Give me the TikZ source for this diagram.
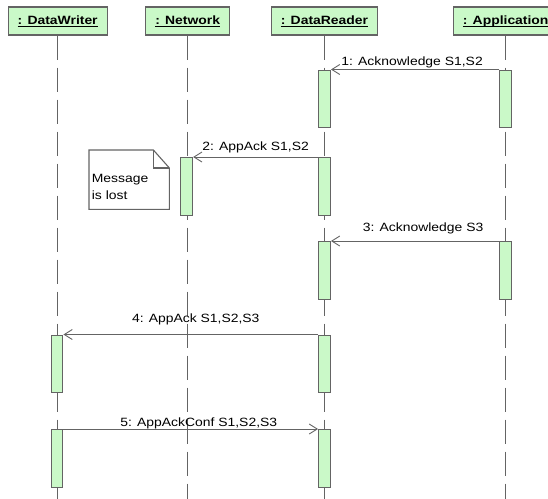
\documentclass[tikz,border=0pt]{standalone}
\usepackage{amsmath}
\usepackage{fontspec}
\usepackage[x11names, rgb]{xcolor}
\usepackage{tikz}
\usetikzlibrary{arrows.meta,positioning,calc}
\newfontfamily\umlfont[FakeStretch=1.16]{Liberation Sans}
\definecolor{umlgreen}{RGB}{202,249,200}
\definecolor{umlgray}{RGB}{100,100,100}

\begin{document}
\begin{tikzpicture}[x=1pt,y=-1pt]
\tikzset{
	head node/.style = {rectangle, draw = umlgray, line width = 1.2, fill = umlgreen, minimum height = 28, inner xsep = 9.5, font = \umlfont\fontsize{12}{14}\selectfont\bfseries},
	act node/.style = {rectangle, draw = umlgray, line width = 1.2, fill = umlgreen, minimum width = 11.7, minimum height = 57.5, inner sep = 0, anchor = north},
	note node/.style = {rectangle, minimum width = 80, minimum height = 59, inner sep = 0},
	note line/.style = {draw = umlgray, line width = 1.1},
	life line/.style = {draw = umlgray, line width = 1.1, dash pattern = on 24pt off 8pt},
	msg line/.style = {draw = umlgray, line width = 0.9, -{Straight Barb[length = 8pt, width = 10pt]}},
	msg label/.style = {font = \umlfont\fontsize{12}{17}\selectfont, inner sep = 0, text depth = 0},
}
\useasboundingbox (0,0) rectangle (548,498);

\node(dw)[head node] at (57.7,21) {\underline{: DataWriter}};
\node(nw)[head node] at (187.7,21) {\underline{: Network}};
\node(dr)[head node] at (324.5,21) {\underline{: DataReader}};
\node(app)[head node] at (505.7,21) {\underline{\smash[b]{: Application}}};
\coordinate(bottom) at (0,502);

\draw [life line] (dw.south) -- (dw.south |- bottom);
\draw [life line] (nw.south) -- (nw.south |- bottom);
\draw [life line] (dr.south) -- (dr.south |- bottom);
\draw [life line] (app.south) -- (app.south |- bottom);

\node(dr1)[act node] at (324.5,69.5) {};
\node(app1)[act node] at (505.7,69.5) {};
\node(nw2)[act node] at (186.7,157) {};
\node(dr2)[act node] at (324.5,157) {};
\node(dr3)[act node] at (324.5,241) {};
\node(app3)[act node] at (505.7,241) {};
\node(dw4)[act node] at (57,334.5) {};
\node(dr4)[act node] at (324.5,334.5) {};
\node(dw5)[act node] at (57,429) {};
\node(dr5)[act node] at (324.5,429) {};

\draw [msg line] (app1.north west) -- (dr1.north east) node[msg label, midway, above = 4pt, xshift = -3]{1: Acknowledge S1,S2};
\draw [msg line] (dr2.north west) -- (nw2.north east) node[msg label, midway, above = 6pt]{2: AppAck S1,S2};
\draw [msg line] (app3.north west) -- (dr3.north east) node[msg label, midway, above = 9pt, xshift = 8]{3: Acknowledge S3};
\draw [msg line] (dr4.north west) -- (dw4.north east) node[msg label, midway, above = 12pt, xshift = 5]{4: AppAck S1,S2,S3};
\draw [msg line] (dw5.north east) -- (dr5.north west) node[msg label, midway, above = 2pt, xshift = 8]{5: AppAckConf S1,S2,S3};

\node(note)[note node, anchor = north west] at (89,150) {};
\draw [note line] (note.south west) -- (note.north west) -- ([xshift = -16]note.north east) -- ([yshift = -18]note.north east) -- (note.south east) -- cycle;
\draw [note line] ([xshift = -16]note.north east) |- ([yshift = -18]note.north east);
\node(lost)[msg label, align = left, anchor = north west] at ([xshift = 2.7, yshift = -24.5]note.north west) {Message\\is lost};

\end{tikzpicture}
\end{document}
